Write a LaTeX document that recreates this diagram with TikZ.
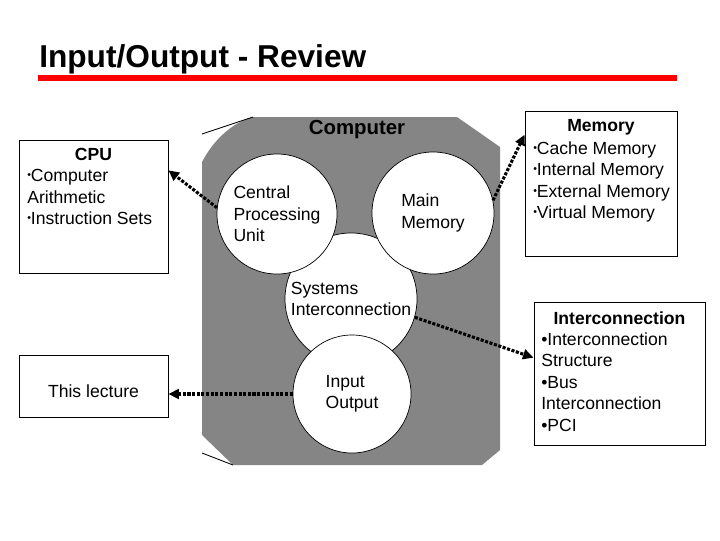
\documentclass[tikz,border=0pt]{standalone}
\usepackage{fontspec}
\setmainfont{Liberation Sans}
\usepackage{tikz}
\usetikzlibrary{arrows.meta, calc}
\newcommand{\dotbul}{\raisebox{0.28ex}{\scalebox{0.6}{•}}}
\tikzset{
  title/.style={
    font=\fontsize{22.5}{26}\selectfont\bfseries,
    inner sep=0pt
  },
  rule/.style={
    draw=red,
    line width=3.6pt
  },
  case/.style={
    fill=black!48
  },
  case edge/.style={
    draw=black,
    line width=0.6pt
  },
  unit/.style={
    circle,
    draw=black,
    line width=0.5pt,
    fill=white,
    inner sep=0pt,
    align=left,
    font=\fontsize{12.5}{15.3}\selectfont
  },
  panel/.style={
    draw=black,
    line width=0.6pt,
    inner sep=0pt
  },
  panel head/.style={
    font=\fontsize{12.5}{15.3}\selectfont\bfseries,
    inner sep=0pt
  },
  panel body/.style={
    font=\fontsize{12.5}{15.3}\selectfont,
    align=left,
    inner sep=0pt
  },
  link/.style={
    -{Triangle[length=7.5pt, width=7pt]},
    line width=2.2pt,
    dash pattern=on 2.2pt off 1.1pt
  }
}

\begin{document}
\begin{tikzpicture}[x=0.025cm, y=-0.025cm]
    \useasboundingbox (0,0) rectangle (720,540);

    % title and red rule
    \node[title, anchor=base west] (title) at (39,67) {Input/Output - Review};
    \draw[rule] (38,78) -- (677,78);

    % computer body
    \fill[case] (253,117) -- (457,117) -- (500,147) -- (500,450) -- (482,465)
      -- (233,465) -- (202,435) -- (202,162) .. controls (213,141) and (231,123) .. (253,117) -- cycle;
    \draw[case edge] (202,134) -- (253,117);
    \draw[case edge] (202,453) -- (233,465);
    \node[font=\fontsize{14.5}{16}\selectfont\bfseries, inner sep=0pt] (comp) at (357,129) {Computer};

    % the four units
    \node[unit, minimum size=3.3cm] (sys) at (351,299) {Systems\\Interconnection};
    \node[unit, minimum size=3cm] (cpu) at (277,214) {Central\\Processing\\Unit};
    \node[unit, minimum size=3.05cm] (mem) at (433,213) {Main\\Memory};
    \node[unit, minimum size=2.95cm] (io) at (352,394) {Input\\Output};

    % side boxes
    \node[panel, minimum width=3.725cm, minimum height=3.325cm] (cpubox) at (93.5,206.5) {};
    \node[panel head] (cpuhead) at (93.5,154) {CPU};
    \node[panel body, anchor=north west] (cpubody) at (27,169)
      {\dotbul Computer\\Arithmetic\\\dotbul Instruction Sets};

    \node[panel, minimum width=3.725cm, minimum height=1.55cm] (lecbox) at (93.5,386) {};
    \node[panel head, font=\fontsize{12.5}{15.3}\selectfont] (lectext) at (93.5,391) {This lecture};

    \node[panel, minimum width=3.8cm, minimum height=3.625cm] (membox) at (601,183.5) {};
    \node[panel head] (memhead) at (601,127) {Memory};
    \node[panel body, anchor=north west] (membody) at (533,141)
      {\dotbul Cache Memory\\\dotbul Internal Memory\\\dotbul External Memory\\\dotbul Virtual Memory};

    \node[panel, minimum width=4.275cm, minimum height=3.575cm] (intbox) at (619.5,373.5) {};
    \node[panel head] (inthead) at (619.5,318) {Interconnection};
    \node[panel body, anchor=north west] (intbody) at (541,332)
      {•Interconnection\\Structure\\•Bus\\Interconnection\\•PCI};

    % dotted links
    \draw[link] (cpu.174) -- ($(cpubox.north east)!.23!(cpubox.south east)$);
    \draw[link] (mem.12) -- ($(membox.north west)!.165!(membox.south west)$);
    \draw[link] (sys.-16) -- ($(intbox.north west)!.39!(intbox.south west)$);
    \draw[link] (io.west) -- (io.west -| lecbox.east);

\end{tikzpicture}
\end{document}
